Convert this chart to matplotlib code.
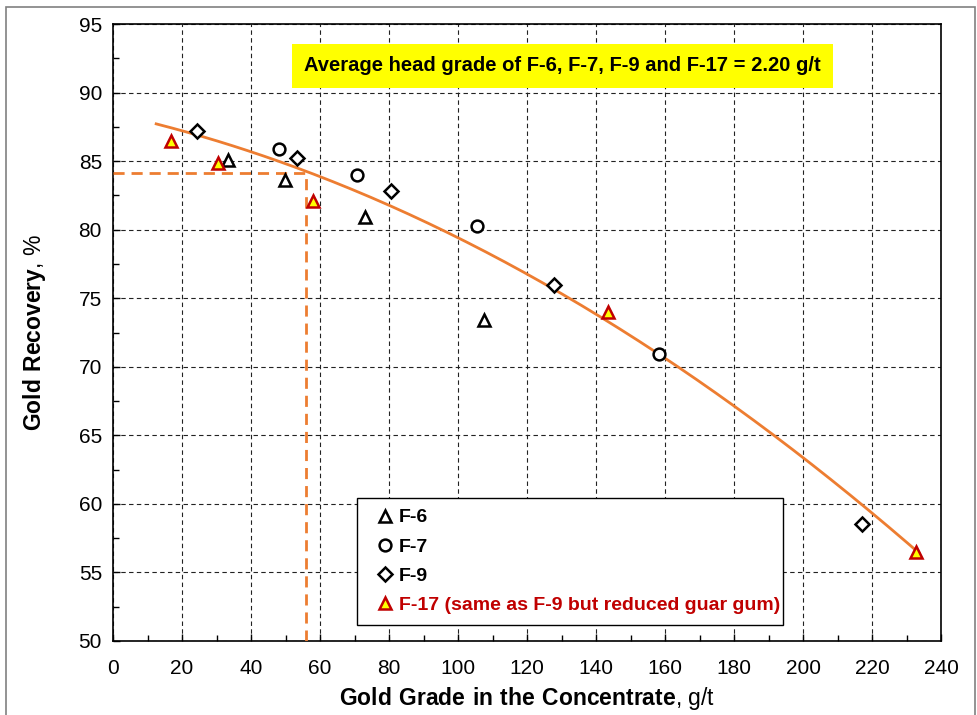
import numpy as np
import matplotlib
matplotlib.use('Agg')
import matplotlib.pyplot as plt
from matplotlib.patches import Rectangle

plt.rcParams['font.family'] = ['Liberation Sans', 'DejaVu Sans']
plt.rcParams['mathtext.fontset'] = 'custom'
plt.rcParams['mathtext.rm'] = 'Liberation Sans'
plt.rcParams['mathtext.bf'] = 'Liberation Sans:bold'

# data
f6_grade = [33.3, 49.9, 73.0, 107.5]
f6_rec = [85.1, 83.6, 80.9, 73.4]
f7_grade = [48.1, 70.7, 105.5, 158.3]
f7_rec = [85.9, 84.0, 80.3, 70.9]
f9_grade = [24.3, 53.3, 80.6, 127.8, 217.1]
f9_rec = [87.2, 85.2, 82.8, 76.0, 58.5]
f17_grade = [16.8, 30.4, 58.0, 143.5, 232.8]
f17_rec = [86.5, 84.9, 82.1, 74.0, 56.5]

# trend curve (quadratic)
trend_x = [12.5, 55.9, 127.5, 233.6]
trend_y = [87.8, 84.1, 75.8, 56.4]
avg_grade, avg_rec = 55.9, 84.1

orange = '#ED7D31'
darkred = '#C00000'

fig = plt.figure(figsize=(9.77, 7.15), dpi=100)
ax = fig.add_axes([0.1157, 0.1035, 0.8475, 0.8629])

coef = np.polyfit(trend_x, trend_y, 2)
xs = np.linspace(trend_x[0], trend_x[-1], 200)
ax.plot(xs, np.polyval(coef, xs), color=orange, lw=2, zorder=3)

ax.plot([0, avg_grade, avg_grade], [avg_rec, avg_rec, 50], color=orange,
        lw=2, ls=(0, (4, 2.5)), zorder=3)

ms = 8.5
ax.plot(f6_grade, f6_rec, ls='none', marker='^', ms=ms, mfc='white',
        mec='black', mew=1.8, label='F-6', zorder=4)
ax.plot(f7_grade, f7_rec, ls='none', marker='o', ms=ms, mfc='white',
        mec='black', mew=1.8, label='F-7', zorder=4)
ax.plot(f9_grade, f9_rec, ls='none', marker='D', ms=7, mfc='white',
        mec='black', mew=1.8, label='F-9', zorder=4)
ax.plot(f17_grade, f17_rec, ls='none', marker='^', ms=ms, mfc='yellow',
        mec=darkred, mew=1.8, label='F-17 (same as F-9 but reduced guar gum)',
        zorder=5)

ax.set_xlim(0, 240)
ax.set_ylim(50, 95)
ax.set_xticks(np.arange(0, 241, 20))
ax.set_xticks(np.arange(0, 241, 10), minor=True)
ax.set_yticks(np.arange(50, 96, 5))
ax.set_yticks(np.arange(50, 95.1, 2.5), minor=True)
ax.grid(True, which='major', color='#222222', ls=(0, (4, 3)), lw=0.8)
ax.tick_params(axis='both', which='major', labelsize=15, direction='in',
               length=5, width=1, pad=8)
ax.tick_params(axis='x', which='major', pad=13)
ax.tick_params(axis='both', which='minor', direction='in', length=4, width=1)
ax.tick_params(top=False, right=False, which='both')
for s in ax.spines.values():
    s.set_color('black')
    s.set_linewidth(1.2)

ax.set_xlabel(r'$\bf{Gold\ Grade\ in\ the\ Concentrate}$, g/t', fontsize=16.5,
              labelpad=5)
ax.set_ylabel(r'$\bf{Gold\ Recovery}$, %', fontsize=16.5, labelpad=22)

ax.text(0.543, 0.932, 'Average head grade of F-6, F-7, F-9 and F-17 = 2.20 g/t',
        transform=ax.transAxes, ha='center', va='center', fontsize=14.5,
        fontweight='bold',
        bbox=dict(boxstyle='square,pad=0.6', fc='yellow', ec='none'),
        zorder=6)

leg = ax.legend(loc='lower left', bbox_to_anchor=(0.295, 0.026, 0.514, 0.207),
                mode='expand', borderaxespad=0, handlelength=1.8,
                handletextpad=-0.2, labelspacing=0.6, borderpad=0.55,
                fancybox=False, framealpha=1, edgecolor='black',
                prop={'weight': 'bold', 'size': 14})
leg.get_frame().set_linewidth(1)
for t in leg.get_texts():
    if t.get_text().startswith('F-17'):
        t.set_color(darkred)

fig.patches.append(Rectangle((0.006, -0.01), 0.992, 1.0, transform=fig.transFigure,
                             fill=False, ec='#808080', lw=1.2))

fig.savefig('out.png', dpi=100)
